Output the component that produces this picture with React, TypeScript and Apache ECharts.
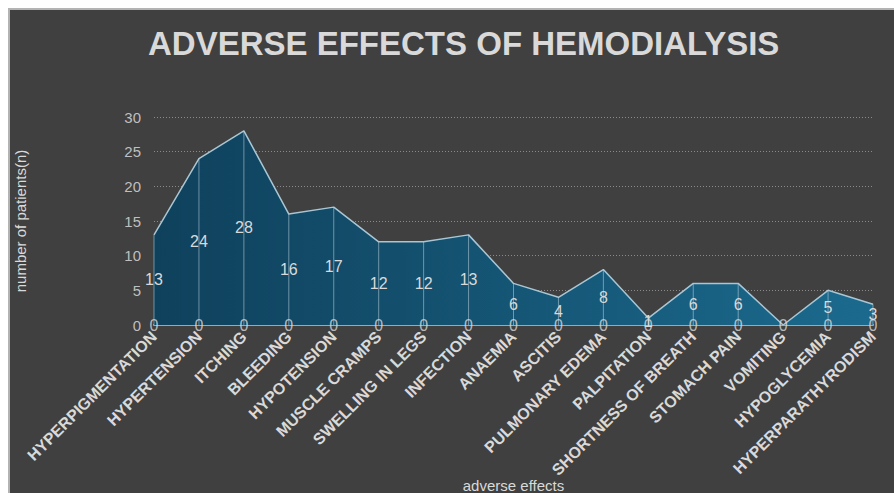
import React, { useEffect, useRef } from "react";
import * as echarts from "echarts";

const categories = [
  "HYPERPIGMENTATION",
  "HYPERTENSION",
  "ITCHING",
  "BLEEDING",
  "HYPOTENSION",
  "MUSCLE CRAMPS",
  "SWELLING IN LEGS",
  "INFECTION",
  "ANAEMIA",
  "ASCITIS",
  "PULMONARY EDEMA",
  "PALPITATION",
  "SHORTNESS OF BREATH",
  "STOMACH PAIN",
  "VOMITING",
  "HYPOGLYCEMIA",
  "HYPERPARATHYRODISM",
];
const patients = [13, 24, 28, 16, 17, 12, 12, 13, 6, 4, 8, 1, 6, 6, 0, 5, 3];
const baseline = [0, 0, 0, 0, 0, 0, 0, 0, 0, 0, 0, 0, 0, 0, 0, 0, 0];

const FONT = "'Liberation Sans', Arial, sans-serif";

export default function App() {
  const ref = useRef<HTMLDivElement>(null);
  useEffect(() => {
    if (!ref.current) return;
    const chart = echarts.init(ref.current, undefined, { renderer: "svg" });
    chart.setOption({
      animation: false,
      backgroundColor: "#404040",
      textStyle: { fontFamily: FONT },
      title: {
        text: "ADVERSE EFFECTS OF HEMODIALYSIS",
        left: 133,
        top: 12,
        textStyle: { color: "#d9d9d9", fontSize: 33, fontWeight: "bold", fontFamily: FONT },
      },
      grid: { left: 144, right: 21, top: 107, bottom: 168, outerBoundsMode: "none", containLabel: false },
      xAxis: {
        type: "category",
        data: categories,
        boundaryGap: false,
        name: "adverse effects",
        nameLocation: "middle",
        nameGap: 153,
        nameMoveOverlap: false,
        nameTextStyle: { color: "#d9d9d9", fontSize: 15, fontFamily: FONT },
        axisLine: { lineStyle: { color: "#a6a6a6", width: 2 } },
        axisTick: { show: false },
        axisLabel: {
          rotate: 45,
          interval: 0,
          margin: 9,
          color: "#d9d9d9",
          fontSize: 16,
          fontWeight: "bold",
          fontFamily: FONT,
        },
      },
      yAxis: {
        type: "value",
        min: 0,
        max: 30,
        interval: 5,
        name: "number of patients(n)",
        nameLocation: "middle",
        nameGap: 126,
        nameMoveOverlap: false,
        nameTextStyle: { color: "#d9d9d9", fontSize: 15, fontFamily: FONT },
        axisLine: { show: false },
        axisTick: { show: false },
        axisLabel: { color: "#bfbfbf", fontSize: 15, margin: 13, fontFamily: FONT },
        splitLine: { lineStyle: { color: "#8a8a8a", type: [1, 2], width: 1 } },
      },
      series: [
        {
          type: "line",
          data: patients,
          symbol: "none",
          z: 2,
          lineStyle: { color: "#a9c6d4", width: 1.5 },
          areaStyle: {
            opacity: 1,
            color: new echarts.graphic.LinearGradient(0, 0, 1, 0, [
              { offset: 0, color: "#0f415c" },
              { offset: 1, color: "#1b6a8e" },
            ]),
          },
        },
        {
          type: "bar",
          data: patients,
          barWidth: 1,
          z: 3,
          itemStyle: { color: "rgba(190,210,220,0.55)" },
          label: {
            show: true,
            position: "inside",
            color: "#d9d9d9",
            fontSize: 16,
            fontFamily: FONT,
            formatter: (p: any) => (p.value === 0 ? "" : String(p.value)),
          },
        },
        {
          type: "scatter",
          data: baseline,
          symbolSize: 0,
          z: 4,
          label: {
            show: true,
            position: "inside",
            color: "#d9d9d9",
            fontSize: 16,
            fontFamily: FONT,
            formatter: "0",
          },
        },
      ],
    });
    return () => chart.dispose();
  }, []);
  return (
    <div style={{ margin: 0, position: "absolute", left: 8, top: 8 }}>
      <div
        style={{
          width: 886,
          height: 485,
          borderTop: "2px solid #b3b3b3",
          borderLeft: "2px solid #b3b3b3",
          boxSizing: "border-box",
        }}
      >
        <div ref={ref} style={{ width: 884, height: 483 }} />
      </div>
    </div>
  );
}
